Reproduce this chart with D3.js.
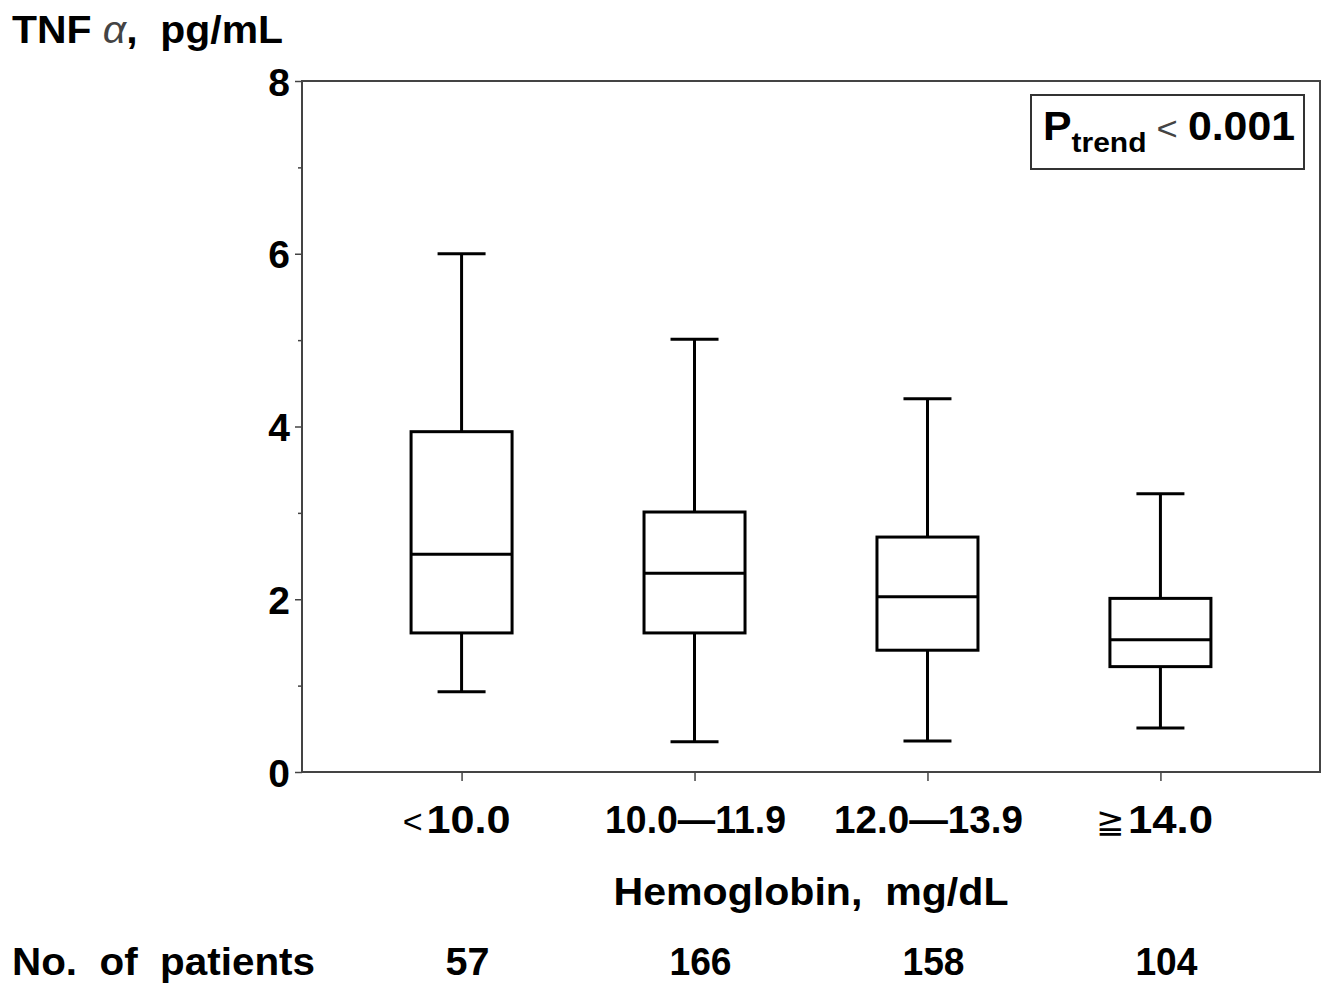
<!DOCTYPE html>
<html>
<head>
<meta charset="utf-8">
<script src="https://cdn.jsdelivr.net/npm/d3@7"></script>
<style>
  body { margin: 0; background: #fff; }
  svg text { font-family: "Liberation Sans", Arial, sans-serif; fill: #000; white-space: pre; }
</style>
</head>
<body>
<div class="chart"></div>
<script>
// Hemoglobin groups and box summaries
const groups = ['<10', '10-11.9', '12-13.9', '>=14']
const groupSymbols = ['<', '', '', '\u2267']
const groupLabels = ['10.0', '10.0\u201411.9', '12.0\u201413.9', '14.0']
const whiskerLow = [0.93, 0.35, 0.36, 0.51]
const q1 = [1.61, 1.61, 1.41, 1.22]
const median = [2.52, 2.30, 2.03, 1.53]
const q3 = [3.94, 3.01, 2.72, 2.01]
const whiskerHigh = [6.0, 5.01, 4.32, 3.22]
const patients = [57, 166, 158, 104]
const yTicks = [0, 2, 4, 6, 8]
const yMinorTicks = [1, 3, 5, 7]

const width = 1326
const height = 985
const margin = { top: 81, right: 6, bottom: 213, left: 302 }

const svg = d3.select('.chart')
    .append('svg')
    .attr('width', width)
    .attr('height', height)

const x = d3.scalePoint()
    .domain(groups)
    .range([margin.left, width - margin.right])
    .padding(0.685)

const y = d3.scaleLinear()
    .domain([0, 8])
    .range([height - margin.bottom, margin.top])

const boxWidth = 101
const capWidth = 48
// label widths measured on the figure, so the squeezed type fits
const labelWidths = [84, 181, 189, 85]
const labelShift = [7, 1, 1, 10]

// plot frame
svg.append('rect')
    .attr('x', margin.left)
    .attr('y', margin.top)
    .attr('width', width - margin.right - margin.left)
    .attr('height', y(0) - margin.top)
    .attr('fill', 'none')
    .attr('stroke', '#444')
    .attr('stroke-width', 2)

// y axis, major + minor ticks
const yAxis = svg.append('g')
    .attr('transform', `translate(${margin.left},0)`)
    .call(d3.axisLeft(y).tickValues(yTicks).tickSize(7).tickPadding(5).tickFormat(d3.format('d')))
yAxis.select('.domain').remove()
yAxis.selectAll('line').attr('stroke', '#444').attr('stroke-width', 1.5)
yAxis.selectAll('text')
    .attr('font-size', 39)
    .attr('font-weight', 'bold')
    .attr('dy', '0.36em')
    .attr('font-family', '"Liberation Sans", Arial, sans-serif')
    .attr('fill', '#000')

const yMinor = svg.append('g')
    .attr('transform', `translate(${margin.left},0)`)
    .call(d3.axisLeft(y).tickValues(yMinorTicks).tickSize(4).tickFormat(''))
yMinor.select('.domain').remove()
yMinor.selectAll('line').attr('stroke', '#444').attr('stroke-width', 1.5)

// x axis ticks
const xAxis = svg.append('g')
    .attr('transform', `translate(0,${y(0)})`)
    .call(d3.axisBottom(x).tickSize(9).tickFormat(''))
xAxis.select('.domain').remove()
xAxis.selectAll('line').attr('stroke', '#444').attr('stroke-width', 1.5)

// x tick labels: number part, then the thin comparison sign in front of it
svg.append('g').selectAll('text')
    .data(groups)
    .join('text')
    .attr('x', (d, i) => x(d) + labelShift[i])
    .attr('y', 833)
    .attr('text-anchor', 'middle')
    .attr('font-size', 39)
    .attr('font-weight', 'bold')
    .attr('textLength', (d, i) => labelWidths[i])
    .attr('lengthAdjust', 'spacingAndGlyphs')
    .text((d, i) => groupLabels[i])

svg.append('g').selectAll('text')
    .data(groups.filter((d, i) => groupSymbols[i]))
    .join('text')
    .attr('x', d => {
        const i = groups.indexOf(d)
        return x(d) + labelShift[i] - labelWidths[i] / 2 - 4
    })
    .attr('y', 833)
    .attr('text-anchor', 'end')
    .attr('font-size', 34)
    .attr('fill', '#333')
    .text(d => groupSymbols[groups.indexOf(d)])

// boxes
const box = svg.append('g')
    .attr('stroke', '#000')
    .attr('stroke-width', 3)
    .attr('fill', 'none')
    .selectAll('g')
    .data(groups)
    .join('g')

box.append('line')
    .attr('x1', d => x(d)).attr('x2', d => x(d))
    .attr('y1', (d, i) => y(whiskerHigh[i]))
    .attr('y2', (d, i) => y(q3[i]))
box.append('line')
    .attr('x1', d => x(d)).attr('x2', d => x(d))
    .attr('y1', (d, i) => y(q1[i]))
    .attr('y2', (d, i) => y(whiskerLow[i]))
box.append('line')
    .attr('x1', d => x(d) - capWidth / 2).attr('x2', d => x(d) + capWidth / 2)
    .attr('y1', (d, i) => y(whiskerHigh[i]))
    .attr('y2', (d, i) => y(whiskerHigh[i]))
box.append('line')
    .attr('x1', d => x(d) - capWidth / 2).attr('x2', d => x(d) + capWidth / 2)
    .attr('y1', (d, i) => y(whiskerLow[i]))
    .attr('y2', (d, i) => y(whiskerLow[i]))
box.append('rect')
    .attr('x', d => x(d) - boxWidth / 2)
    .attr('width', boxWidth)
    .attr('y', (d, i) => y(q3[i]))
    .attr('height', (d, i) => y(q1[i]) - y(q3[i]))
    .attr('fill', '#fff')
box.append('line')
    .attr('x1', d => x(d) - boxWidth / 2).attr('x2', d => x(d) + boxWidth / 2)
    .attr('y1', (d, i) => y(median[i]))
    .attr('y2', (d, i) => y(median[i]))

// y title
const yt = svg.append('text')
    .attr('x', 12)
    .attr('y', 43)
    .attr('font-size', 38)
    .attr('font-weight', 'bold')
    .attr('textLength', 271)
    .attr('lengthAdjust', 'spacingAndGlyphs')
yt.append('tspan').text('TNF ')
yt.append('tspan').attr('font-weight', 'normal').attr('fill', '#444').attr('font-style', 'italic').text('\u03b1')
yt.append('tspan').text(',  pg/mL')

// x title
svg.append('text')
    .attr('x', 811)
    .attr('y', 905)
    .attr('text-anchor', 'middle')
    .attr('font-size', 39)
    .attr('font-weight', 'bold')
    .attr('textLength', 395)
    .attr('lengthAdjust', 'spacingAndGlyphs')
    .text('Hemoglobin,  mg/dL')

// patient counts
svg.append('text')
    .attr('x', 12)
    .attr('y', 975)
    .attr('font-size', 39)
    .attr('font-weight', 'bold')
    .attr('textLength', 303)
    .attr('lengthAdjust', 'spacingAndGlyphs')
    .text('No.  of  patients')

svg.append('g').selectAll('text')
    .data(groups)
    .join('text')
    .attr('x', d => x(d) + 6)
    .attr('y', 975)
    .attr('text-anchor', 'middle')
    .attr('font-size', 39)
    .attr('font-weight', 'bold')
    .attr('textLength', (d, i) => String(patients[i]).length > 2 ? 62 : 44)
    .attr('lengthAdjust', 'spacingAndGlyphs')
    .text((d, i) => patients[i])

// p-trend legend box
svg.append('rect')
    .attr('x', 1031)
    .attr('y', 95)
    .attr('width', 273)
    .attr('height', 74)
    .attr('fill', '#fff')
    .attr('stroke', '#333')
    .attr('stroke-width', 2)

const pt = svg.append('text')
    .attr('x', 1043)
    .attr('y', 140)
    .attr('font-size', 40)
    .attr('textLength', 252)
    .attr('lengthAdjust', 'spacingAndGlyphs')
pt.append('tspan').attr('font-weight', 'bold').text('P')
pt.append('tspan').attr('font-weight', 'bold').attr('font-size', 28).attr('dy', 12).text('trend')
pt.append('tspan').attr('dy', -12).attr('fill', '#444').attr('font-size', 34).text(' < ')
pt.append('tspan').attr('font-weight', 'bold').text('0.001')
</script>
</body>
</html>
